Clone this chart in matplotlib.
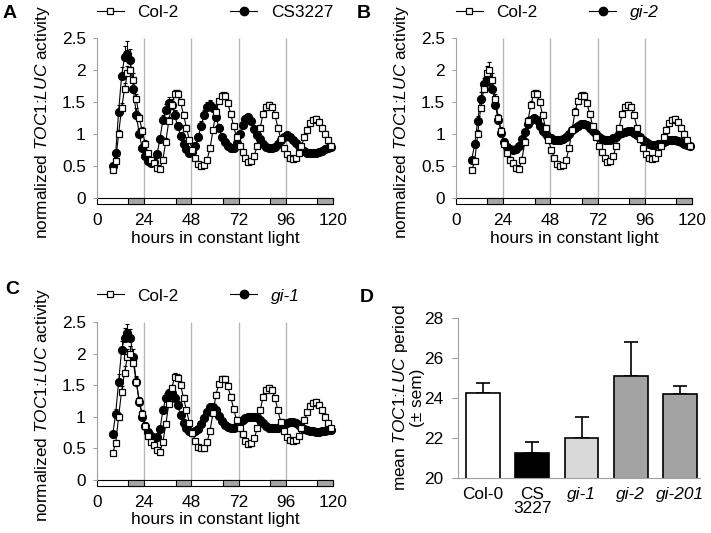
import numpy as np
import matplotlib
matplotlib.use('Agg')
import matplotlib.pyplot as plt
from matplotlib.lines import Line2D

plt.rcParams['font.family'] = ['Liberation Sans', 'DejaVu Sans']
plt.rcParams['mathtext.fontset'] = 'custom'
plt.rcParams['mathtext.rm'] = 'Liberation Sans'
plt.rcParams['mathtext.it'] = 'Liberation Sans:italic'

# sampling times (h in constant light)
hours = np.arange(8, 119.1, 1.5)

col2 = [0.43, 0.58, 1.0, 1.4, 1.7, 1.95, 2.0, 1.85, 1.55, 1.25,
        1.05, 0.85, 0.7, 0.6, 0.55, 0.47, 0.45, 0.6, 0.88, 1.2,
        1.45, 1.63, 1.62, 1.5, 1.3, 1.1, 0.9, 0.75, 0.62, 0.53,
        0.5, 0.51, 0.6, 0.78, 1.06, 1.35, 1.52, 1.6, 1.6, 1.48,
        1.32, 1.12, 0.95, 0.82, 0.72, 0.62, 0.57, 0.58, 0.66, 0.82,
        1.1, 1.32, 1.42, 1.45, 1.42, 1.3, 1.1, 0.92, 0.78, 0.68,
        0.63, 0.61, 0.63, 0.7, 0.82, 0.95, 1.07, 1.17, 1.22, 1.23,
        1.19, 1.1, 1.0, 0.9, 0.82]
col2_err = [0.03, 0.04, 0.06, 0.08, 0.1, 0.12, 0.12, 0.1, 0.08, 0.07,
            0.06, 0.05, 0.04, 0.04, 0.03, 0.03, 0.03, 0.04, 0.05, 0.06,
            0.06, 0.06, 0.06, 0.05, 0.05, 0.04, 0.04, 0.03, 0.03, 0.03,
            0.03, 0.03, 0.03, 0.04, 0.04, 0.05, 0.05, 0.05, 0.05, 0.05,
            0.04, 0.04, 0.04, 0.03, 0.03, 0.03, 0.03, 0.03, 0.03, 0.04,
            0.04, 0.04, 0.05, 0.05, 0.05, 0.04, 0.04, 0.04, 0.03, 0.03,
            0.03, 0.03, 0.03, 0.03, 0.03, 0.04, 0.04, 0.04, 0.05, 0.05,
            0.05, 0.04, 0.04, 0.04, 0.03]

cs3227 = [0.5, 0.7, 1.35, 1.9, 2.2, 2.25, 2.15, 1.7, 1.3, 1.0,
          0.78, 0.65, 0.58, 0.55, 0.56, 0.68, 0.92, 1.22, 1.38, 1.48,
          1.45, 1.3, 1.12, 0.97, 0.85, 0.76, 0.7, 0.72, 0.82, 0.96,
          1.13, 1.3, 1.42, 1.45, 1.4, 1.27, 1.1, 0.96, 0.87, 0.82,
          0.78, 0.78, 0.86, 1.0, 1.14, 1.23, 1.27, 1.2, 1.08, 0.98,
          0.92, 0.85, 0.8, 0.78, 0.78, 0.8, 0.85, 0.91, 0.96, 0.98,
          0.96, 0.91, 0.86, 0.81, 0.77, 0.73, 0.71, 0.7, 0.7, 0.71,
          0.72, 0.74, 0.76, 0.78, 0.79]
cs3227_err = [0.05, 0.07, 0.1, 0.14, 0.18, 0.2, 0.18, 0.14, 0.1, 0.08,
              0.06, 0.05, 0.04, 0.04, 0.04, 0.05, 0.06, 0.08, 0.09, 0.1,
              0.09, 0.08, 0.07, 0.06, 0.05, 0.04, 0.04, 0.04, 0.05, 0.06,
              0.07, 0.08, 0.08, 0.08, 0.07, 0.06, 0.05, 0.04, 0.04, 0.04,
              0.04, 0.04, 0.04, 0.05, 0.05, 0.05, 0.05, 0.05, 0.04, 0.04,
              0.04, 0.03, 0.03, 0.03, 0.03, 0.03, 0.03, 0.03, 0.03, 0.03,
              0.03, 0.03, 0.03, 0.03, 0.03, 0.03, 0.03, 0.03, 0.03, 0.03,
              0.03, 0.03, 0.03, 0.03, 0.03]

gi2 = [0.6, 0.85, 1.2, 1.55, 1.78, 1.86, 1.83, 1.7, 1.45, 1.22,
       1.02, 0.88, 0.8, 0.76, 0.75, 0.76, 0.82, 0.92, 1.03, 1.15,
       1.22, 1.25, 1.22, 1.12, 1.05, 1.0, 0.96, 0.93, 0.91, 0.9,
       0.9, 0.92, 0.95, 1.0, 1.06, 1.1, 1.13, 1.15, 1.16, 1.14,
       1.1, 1.05, 1.0, 0.95, 0.92, 0.9, 0.9, 0.91, 0.93, 0.95,
       1.0, 1.02, 1.03, 1.04, 1.04, 1.02, 0.99, 0.95, 0.91, 0.88,
       0.85, 0.83, 0.83, 0.84, 0.85, 0.87, 0.89, 0.9, 0.9, 0.9,
       0.89, 0.87, 0.85, 0.83, 0.81]
gi2_err = [0.04, 0.06, 0.08, 0.1, 0.1, 0.1, 0.1, 0.09, 0.08, 0.07,
           0.06, 0.05, 0.04, 0.04, 0.04, 0.04, 0.04, 0.05, 0.05, 0.05,
           0.05, 0.05, 0.05, 0.04, 0.04, 0.04, 0.03, 0.03, 0.03, 0.03,
           0.03, 0.03, 0.03, 0.03, 0.04, 0.04, 0.04, 0.04, 0.04, 0.04,
           0.03, 0.03, 0.03, 0.03, 0.03, 0.03, 0.03, 0.03, 0.03, 0.03,
           0.03, 0.03, 0.03, 0.03, 0.03, 0.03, 0.03, 0.03, 0.03, 0.03,
           0.03, 0.03, 0.03, 0.03, 0.03, 0.03, 0.03, 0.03, 0.03, 0.03,
           0.03, 0.03, 0.03, 0.03, 0.03]

gi1 = [0.72, 1.05, 1.55, 2.05, 2.25, 2.32, 2.25, 1.95, 1.55, 1.24,
       1.0, 0.86, 0.76, 0.69, 0.66, 0.68, 0.8, 1.1, 1.3, 1.37,
       1.37, 1.3, 1.18, 1.03, 0.9, 0.83, 0.78, 0.76, 0.77, 0.81,
       0.88, 0.98, 1.08, 1.16, 1.15, 1.1, 1.02, 0.94, 0.87, 0.84,
       0.82, 0.82, 0.86, 0.91, 0.95, 0.98, 1.0, 1.0, 1.0, 0.99,
       0.95, 0.9, 0.85, 0.82, 0.82, 0.82, 0.83, 0.85, 0.88, 0.9,
       0.92, 0.91, 0.9, 0.87, 0.84, 0.81, 0.79, 0.78, 0.77, 0.76,
       0.76, 0.77, 0.78, 0.79, 0.79]
gi1_err = [0.05, 0.08, 0.12, 0.15, 0.15, 0.15, 0.14, 0.12, 0.1, 0.08,
           0.07, 0.06, 0.05, 0.05, 0.05, 0.05, 0.06, 0.07, 0.07, 0.07,
           0.07, 0.06, 0.06, 0.05, 0.05, 0.04, 0.04, 0.04, 0.04, 0.04,
           0.05, 0.05, 0.05, 0.05, 0.05, 0.04, 0.04, 0.04, 0.04, 0.04,
           0.03, 0.03, 0.03, 0.03, 0.03, 0.03, 0.03, 0.03, 0.03, 0.03,
           0.03, 0.03, 0.03, 0.03, 0.03, 0.03, 0.03, 0.03, 0.03, 0.03,
           0.03, 0.03, 0.03, 0.03, 0.03, 0.03, 0.03, 0.03, 0.03, 0.03,
           0.03, 0.03, 0.03, 0.03, 0.03]

# subjective night bars under the time axis
night_starts = [16, 40, 64, 88, 112]
night_len = 8
grid_hours = [24, 48, 72, 96]

# panel D
genotypes = ['Col-0', 'CS\n3227', 'gi-1', 'gi-2', 'gi-201']
period_mean = [24.25, 21.25, 22.0, 25.1, 24.2]
period_sem = [0.5, 0.55, 1.05, 1.7, 0.4]
bar_colors = ['white', 'black', '#d9d9d9', '#a3a3a3', '#a3a3a3']

FS = 12.4
GREY = '#a0a0a0'
LUC = r'$\mathit{TOC1}$:$\mathit{LUC}$'

fig = plt.figure(figsize=(7.11, 5.33), dpi=100)


def time_panel(rect, mutant, mutant_err, name):
    ax = fig.add_axes(rect)
    ax.vlines(grid_hours, 0, 2.5, color='#b8b8b8', lw=1.0, zorder=0)
    ax.broken_barh([(0, 120)], (-0.1, 0.1), facecolor='white', edgecolor='black',
                   lw=0.8, clip_on=False, zorder=2)
    ax.broken_barh([(s, night_len) for s in night_starts], (-0.1, 0.1),
                   facecolor='#a6a6a6', edgecolor='black', lw=0.8, clip_on=False, zorder=2)
    z = np.zeros(len(hours))
    ax.errorbar(hours, mutant, yerr=[z, mutant_err], fmt='-o', color='black', ms=5.6,
                lw=0.8, elinewidth=0.8, capsize=1.5, capthick=0.8, zorder=3, clip_on=False)
    ax.errorbar(hours, col2, yerr=[z, col2_err], fmt='-s', color='black', mfc='white',
                mec='black', mew=0.9, ms=4.4, lw=0.8, elinewidth=0.8, capsize=1.5,
                capthick=0.8, zorder=4, clip_on=False)
    ax.set_xlim(0, 120)
    ax.set_ylim(-0.12, 2.5)
    for s in ['top', 'right', 'bottom']:
        ax.spines[s].set_visible(False)
    ax.spines['left'].set_color(GREY)
    ax.spines['left'].set_bounds(0, 2.5)
    ax.set_yticks([0, 0.5, 1, 1.5, 2, 2.5])
    ax.set_yticklabels(['0', '0.5', '1', '1.5', '2', '2.5'])
    ax.set_xticks([0, 24, 48, 72, 96, 120])
    ax.tick_params(axis='y', colors=GREY, labelcolor='black', length=3, width=0.8,
                   pad=5, labelsize=FS)
    ax.tick_params(axis='x', length=0, pad=5.5, labelsize=FS)
    ax.set_ylabel('normalized ' + LUC + ' activity', fontsize=FS)
    ax.yaxis.set_label_coords(-0.19, 0.5)
    ax.set_xlabel('hours in constant light', fontsize=FS)
    ax.xaxis.set_label_coords(0.5, -0.15)
    ax.xaxis.label.set_va('top')

    handles = [Line2D([], [], color='black', lw=0.8, marker='s', mfc='white', mec='black',
                      mew=0.9, ms=4.8),
               Line2D([], [], color='black', lw=0.8, marker='o', ms=6)]
    h_px = rect[3] * 533
    leg = ax.legend(handles, ['Col-2', name], loc='center left',
                    bbox_to_anchor=(0, 1 + 26 / h_px), ncol=2, frameon=False,
                    handlelength=1.55, handletextpad=0.8, columnspacing=3.0,
                    borderpad=0, borderaxespad=0, fontsize=FS)
    if name.startswith('gi'):
        leg.get_texts()[1].set_style('italic')
    return ax


time_panel([0.1364, 0.6141, 0.3319, 0.3146], cs3227, cs3227_err, 'CS3227')
time_panel([0.6414, 0.6141, 0.3319, 0.3146], gi2, gi2_err, 'gi-2')
time_panel([0.1364, 0.0852, 0.3319, 0.3107], gi1, gi1_err, 'gi-1')

# panel D: mean period
axd = fig.add_axes([0.6442, 0.1032, 0.3404, 0.3002])
xpos = np.arange(len(genotypes))
axd.bar(xpos, period_mean, width=0.68, color=bar_colors, edgecolor='black', lw=1.2,
        zorder=2)
axd.errorbar(xpos, period_mean, yerr=[np.zeros(len(xpos)), period_sem], fmt='none',
             ecolor='black', elinewidth=1.2, capsize=5, capthick=1.2, zorder=1)
axd.set_ylim(20, 28)
axd.set_xlim(-0.5, 4.4)
for s in ['top', 'right']:
    axd.spines[s].set_visible(False)
axd.spines['left'].set_color(GREY)
axd.spines['bottom'].set_color(GREY)
axd.set_yticks([20, 22, 24, 26, 28])
axd.tick_params(axis='y', colors=GREY, labelcolor='black', length=4, width=0.8,
                pad=6.5, labelsize=FS)
axd.set_xticks(xpos)
axd.set_xticklabels(genotypes, fontsize=FS, linespacing=0.95)
for lbl in axd.get_xticklabels()[2:]:
    lbl.set_style('italic')
axd.tick_params(axis='x', length=0, pad=6.5)
axd.set_ylabel('mean ' + LUC + ' period\n(\u00b1 sem)', fontsize=FS, linespacing=1.0)
axd.yaxis.set_label_coords(-0.135, 0.5)

# panel letters
for letter, x, y in [('A', 3, 14), ('B', 357, 14), ('C', 5, 290), ('D', 360, 297)]:
    fig.text(x / 711, 1 - y / 533, letter, fontsize=14, fontweight='bold',
             ha='left', va='center')

fig.savefig('out.png', dpi=100)
